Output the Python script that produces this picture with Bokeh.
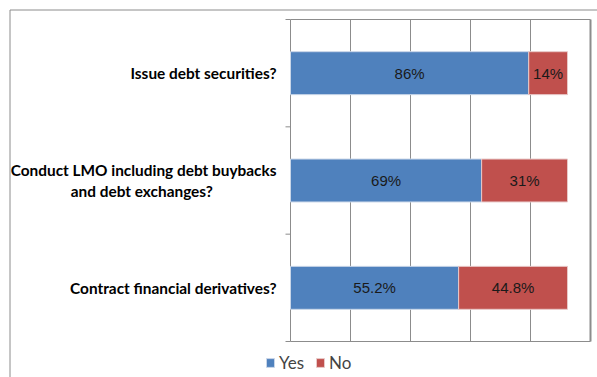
from bokeh.plotting import figure
from bokeh.models import ColumnDataSource, Range1d, Legend, LegendItem
from bokeh.core.properties import value
from bokeh.embed import file_html
from bokeh.resources import INLINE

NB = "\u00a0"
categories = [
    "Issue debt securities?",
    "Conduct LMO including debt buybacks\nand debt exchanges?" + NB * 17,
    "Contract financial derivatives?",
]
# bar lengths as drawn in the picture (percent of the row)
yes = [86, 69, 60.7]
no = [14, 31, 39.3]
# data labels as printed on the bars
yes_labels = ["86%", "69%", "55.2%"]
no_labels = ["14%", "31%", "44.8%"]

# ---- layout (pixels) ----
W, H = 597, 377
PLOT_L, PLOT_T, PLOT_B = 290, 19, 341      # chart area in page pixels
PX_PER_PCT = 2.77                           # 100% -> 277 px
GRID_PX = 60                                # gridline spacing in px
N_GRID = 6

n = len(categories)
px_per_cat = (PLOT_B - PLOT_T) / n
x_start = -PLOT_L / PX_PER_PCT
x_end = (W - PLOT_L) / PX_PER_PCT
y_start = -(H - PLOT_B) / px_per_cat
y_end = n + PLOT_T / px_per_cat


def dx(px):
    """pixel offset -> data units along x"""
    return px / PX_PER_PCT


def xpx(px):
    return x_start + px / PX_PER_PCT


def ypx(px):
    return y_end - px / px_per_cat


ypos = [n - 0.5 - i for i in range(n)]
grid_x = [i * dx(GRID_PX) for i in range(N_GRID)]
xmax = grid_x[-1]

src = ColumnDataSource(dict(
    y=ypos,
    cat=categories,
    yes=yes,
    no=no,
    total=[a + b for a, b in zip(yes, no)],
    yes_mid=[a / 2 for a in yes],
    no_mid=[a + b / 2 for a, b in zip(yes, no)],
    yes_lab=yes_labels,
    no_lab=no_labels,
))

p = figure(width=W, height=H, output_backend="svg", toolbar_location=None,
           x_range=Range1d(x_start, x_end), y_range=Range1d(y_start, y_end),
           min_border_left=0, min_border_right=0, min_border_top=0, min_border_bottom=0)
p.title.visible = False
p.xaxis.visible = False
p.yaxis.visible = False
p.xgrid.visible = False
p.ygrid.visible = False
p.background_fill_color = "white"
p.border_fill_color = "white"
p.outline_line_color = None

GRAY = "#8c8c8c"

# outer chart border (left and top)
p.segment(x0=[xpx(9.5), xpx(9.5)], y0=[ypx(9.5), ypx(9.5)],
          x1=[xpx(9.5), x_end], y1=[y_start, ypx(9.5)],
          line_color=GRAY, line_width=1)

# vertical gridlines (incl. axis line and right frame)
p.segment(x0=grid_x, y0=[0] * N_GRID, x1=grid_x, y1=[n] * N_GRID,
          line_color=GRAY, line_width=[1] * (N_GRID - 1) + [2])
# top and bottom of plot area
p.segment(x0=[0, 0], y0=[0, n], x1=[xmax, xmax], y1=[0, n],
          line_color=GRAY, line_width=1)
# category boundary ticks on the left axis
bounds = list(range(n + 1))
p.segment(x0=[-dx(5)] * len(bounds), y0=bounds, x1=[0] * len(bounds), y1=bounds,
          line_color=GRAY, line_width=1)

r_yes = p.hbar(y="y", left=0, right="yes", height=0.4, source=src,
               fill_color="#4F81BD", line_color="#c9d6e8", line_width=1)
r_no = p.hbar(y="y", left="yes", right="total", height=0.4, source=src,
              fill_color="#C0504D", line_color="#e8c9c8", line_width=1)

for xcol, lcol in (("yes_mid", "yes_lab"), ("no_mid", "no_lab")):
    p.text(x=xcol, y="y", text=lcol, source=src, text_align="center",
           text_baseline="middle", text_font=value("Liberation Sans"),
           text_font_size="15px", text_color="#1a1a1a")

# category labels
p.text(x=-dx(14), y="y", text="cat", source=src, text_align="right",
       text_baseline="middle", text_font=value("Lato"), text_font_style="bold",
       text_font_size="15.4px", text_color="#000000", text_line_height=1.15)

legend = Legend(items=[LegendItem(label="Yes", renderers=[r_yes]),
                       LegendItem(label="No", renderers=[r_no])],
                orientation="horizontal", location=(265, 4),
                label_text_font="Lato", label_text_font_size="17px",
                glyph_width=10, glyph_height=11, label_height=14,
                label_standoff=4, spacing=11,
                border_line_color=None, background_fill_alpha=0, padding=0, margin=0)
p.add_layout(legend)

open("out.html", "w").write(file_html(p, INLINE))
